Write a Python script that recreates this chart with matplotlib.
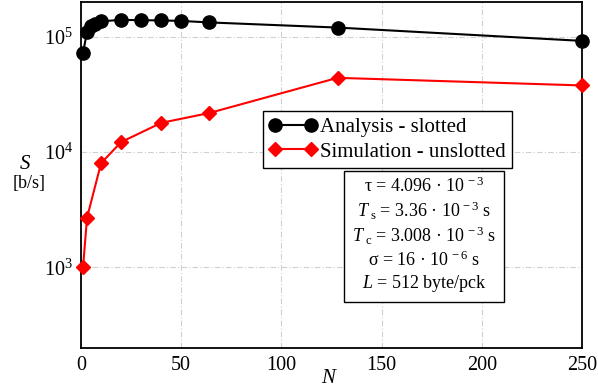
import matplotlib
matplotlib.use("Agg")
import matplotlib.pyplot as plt
from matplotlib.ticker import FixedLocator

plt.rcParams["font.family"] = ["Liberation Serif", "DejaVu Serif"]
plt.rcParams["mathtext.fontset"] = "custom"
plt.rcParams["mathtext.rm"] = "Liberation Serif"
plt.rcParams["mathtext.it"] = "Liberation Serif:italic"
plt.rcParams["mathtext.sf"] = "Liberation Serif"

# Throughput vs. number of nodes
n_analysis = [1, 3, 5, 7, 10, 20, 30, 40, 50, 64, 128, 250]
s_analysis = [72600, 110000, 124000, 130000, 136000, 140000, 139000, 138500,
              137000, 133000, 120000, 92000]

n_sim = [1, 3, 10, 20, 40, 64, 128, 250]
s_sim = [1000, 2700, 8000, 12200, 17900, 21800, 44000, 37800]

x_ticks = [0, 50, 100, 150, 200, 250]
y_ticks = [1e3, 1e4, 1e5]
y_tick_labels = [r"$10^3$", r"$10^4$", r"$10^5$"]

params = [
    r"τ = 4.096 · 10$^{\,-3}$",
    r"$T_{\ \mathrm{s}}$ = 3.36 · 10$^{\,-3}$ s",
    r"$T_{\ \mathrm{c}}$ = 3.008 · 10$^{\,-3}$ s",
    r"σ = 16 · 10$^{\,-6}$ s",
    r"$L$ = 512 byte/pck",
]

fig = plt.figure(figsize=(5.98, 3.90), dpi=100)
ax = fig.add_axes([0.1355, 0.1077, 0.8377, 0.8872])

ax.plot(n_analysis, s_analysis, color="black", lw=1.5, marker="o",
        markersize=9.5, label="Analysis - slotted", zorder=3, clip_on=False)
ax.plot(n_sim, s_sim, color="red", lw=1.5, marker="D",
        markersize=7.5, label="Simulation - unslotted", zorder=3, clip_on=False)

ax.set_yscale("log")
ax.set_xlim(0, 250)
ax.set_ylim(200, 2.0e5)
ax.xaxis.set_major_locator(FixedLocator(x_ticks))
ax.yaxis.set_major_locator(FixedLocator(y_ticks))
ax.yaxis.set_minor_locator(FixedLocator([]))
ax.set_yticklabels(y_tick_labels)
ax.tick_params(axis="both", length=0, labelsize=14.5, pad=6)

ax.grid(True, color="#d0d0d0", lw=0.8, ls=(0, (5, 2, 1, 2)))
for sp in ax.spines.values():
    sp.set_linewidth(1.3)

ax.text(0.497, -0.088, r"$N$", transform=ax.transAxes, fontsize=15,
        ha="center", va="center")
ax.text(-0.112, 0.529, r"$S$", transform=ax.transAxes, fontsize=15,
        ha="center", va="center")
ax.text(-0.103, 0.474, "[b/s]", transform=ax.transAxes, fontsize=13,
        ha="center", va="center")

leg = ax.legend(loc="upper left", bbox_to_anchor=(0.363, 0.685), fontsize=15,
                numpoints=2, handlelength=2.3, handletextpad=0.15,
                borderpad=0.3, labelspacing=0.25, borderaxespad=0,
                fancybox=False, framealpha=1, edgecolor="black")
leg.get_frame().set_linewidth(1.0)

ax.text(0.685, 0.495, "\n".join(params), transform=ax.transAxes,
        fontsize=13, ha="center", va="top", linespacing=1.2,
        bbox=dict(boxstyle="square,pad=0.45", fc="white", ec="black", lw=1.0))

fig.savefig("out.png", dpi=100)
